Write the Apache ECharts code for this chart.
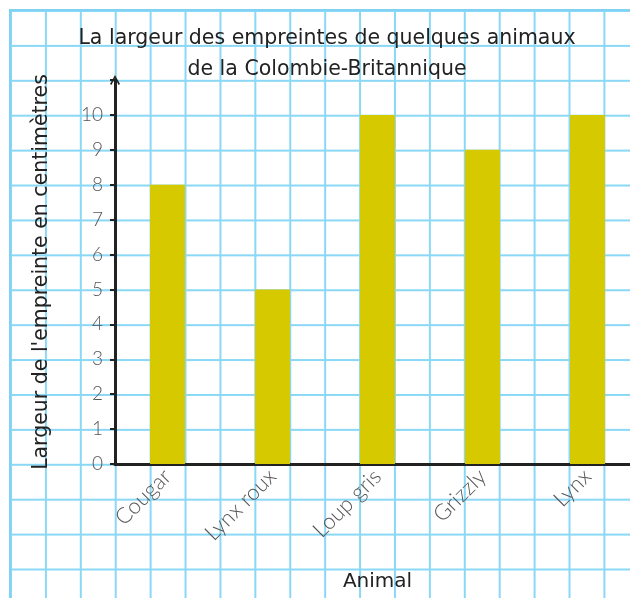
<!DOCTYPE html>
<html>
<head>
<meta charset="utf-8">
<script src="https://cdn.jsdelivr.net/npm/echarts@6/dist/echarts.min.js"></script>
<style>
	html, body { margin: 0; padding: 0; background: #fff; }
	#wrap { position: relative; width: 630px; height: 598px; overflow: hidden; }
	/* papier quadrillé */
	#paper {
		position: absolute; left: 9px; top: 9px; width: 640px; height: 600px;
		border-left: 2px solid #7fd2f4; border-top: 2px solid #7fd2f4;
		box-sizing: border-box;
		background-image:
			linear-gradient(to right, #8ad8f5 1.5px, transparent 1.5px),
			linear-gradient(to bottom, #8ad8f5 1.5px, transparent 1.5px);
		background-size: 34.92px 34.92px;
		background-position: -1px -1px;
	}
	#chart { position: absolute; left: 0; top: 0; width: 630px; height: 598px; }
</style>
</head>
<body>
<div id="wrap">
	<div id="paper"></div>
	<div id="chart"></div>
</div>
<script>
	// données
	const animaux = ['Cougar', 'Lynx roux', 'Loup gris', 'Grizzly', 'Lynx'];
	const largeurs = [8, 5, 10, 9, 10];

	let chart = echarts.init(document.getElementById('chart'));
	let option = {
		animation: false,
		title: {
			text: 'La largeur des empreintes de quelques animaux\nde la Colombie-Britannique',
			left: 322,
			textAlign: 'center',
			top: 18,
			textStyle: {
				fontFamily: 'DejaVu Sans',
				fontWeight: 'normal',
				fontSize: 20.5,
				lineHeight: 31,
				color: '#222'
			}
		},
		grid: {
			left: 115,
			right: -10,
			top: 80,
			bottom: 134,
			outerBoundsMode: 'none'
		},
		xAxis: {
			type: 'category',
			data: animaux,
			name: 'Animal',
			nameLocation: 'middle',
			nameGap: 108,
			nameTextStyle: { fontFamily: 'DejaVu Sans', fontSize: 20, color: '#222' },
			axisLine: { lineStyle: { color: '#222', width: 3 } },
			axisTick: { show: false },
			splitLine: { show: false },
			axisLabel: {
				rotate: 45,
				margin: 9,
				fontFamily: 'Lato',
				fontWeight: 300,
				fontSize: 22,
				color: '#555'
			}
		},
		yAxis: {
			type: 'value',
			min: 0,
			max: 11,
			interval: 1,
			name: "Largeur de l'empreinte en centimètres",
			nameLocation: 'middle',
			nameGap: 63,
			nameRotate: 90,
			nameTextStyle: { fontFamily: 'DejaVu Sans', fontSize: 20.5, color: '#222' },
			axisLine: {
				show: true,
				symbol: ['none', 'path://M0,9 L5,0 L10,9 L8.6,10 L5,3.2 L1.4,10 Z'],
				symbolSize: [13, 10],
				symbolOffset: [0, 0],
				lineStyle: { color: '#222', width: 3 }
			},
			axisTick: { show: true, length: 5, lineStyle: { color: '#222', width: 2 } },
			splitLine: { show: false },
			axisLabel: {
				margin: 12,
				fontFamily: 'Lato',
				fontWeight: 300,
				fontSize: 19,
				color: '#555',
				formatter: function (v) { return v > 10 ? '' : v; }
			}
		},
		series: [{
			type: 'bar',
			data: largeurs,
			barWidth: '33.3%',
			itemStyle: { color: '#d6c900' }
		}]
	};
	chart.setOption(option);
</script>
</body>
</html>
